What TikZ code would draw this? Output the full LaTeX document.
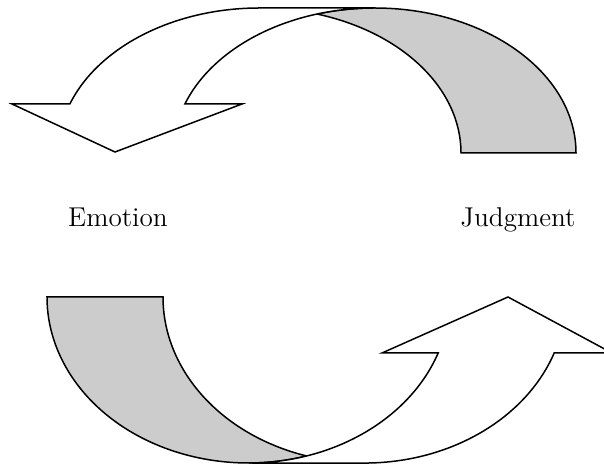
\documentclass[tikz,border=0pt]{standalone}
\usepackage{tikz}

\begin{document}
\begin{tikzpicture}[x=0.5pt,y=0.5pt,
    frontband/.style={draw=black,fill=white,line width=0.75pt,line join=miter},
    backband/.style={draw=black,fill=black!20,line width=0.75pt},
    lbl/.style={font=\fontsize{13.6}{16}\selectfont,inner sep=0pt}]
  \clip (0,0) rectangle (604,470);
  % upper arrow, back part first
  \path[backband] (374.5,462) arc[start angle=90,end angle=0,x radius=201.5,y radius=145]
    -- (461,317) arc[start angle=0,end angle=73.42,x radius=201.5,y radius=145]
    arc[start angle=106.58,end angle=90,x radius=201.5,y radius=145] -- cycle;
  \path[frontband] (12,366) -- (115,318) -- (242,366) -- (184.9,366)
    arc[start angle=160.25,end angle=90,x radius=201.5,y radius=145]
    -- (259.5,462) arc[start angle=90,end angle=160.25,x radius=201.5,y radius=145] -- cycle;
  % lower arrow
  \path[backband] (47,173) arc[start angle=180,end angle=286.73,x radius=201.5,y radius=166]
    arc[start angle=253.27,end angle=180,x radius=201.5,y radius=166] -- cycle;
  \path[frontband] (382,117) -- (508,173) -- (612,117) -- (554.2,117)
    arc[start angle=340.3,end angle=270,x radius=201.5,y radius=166]
    -- (248.5,7) arc[start angle=270,end angle=340.3,x radius=201.5,y radius=166] -- cycle;
  % labels
  \node[lbl,anchor=base] (emotion) at (118,243) {Emotion};
  \node[lbl,anchor=base] (judgment) at (518,243) {Judgment};
\end{tikzpicture}
\end{document}
